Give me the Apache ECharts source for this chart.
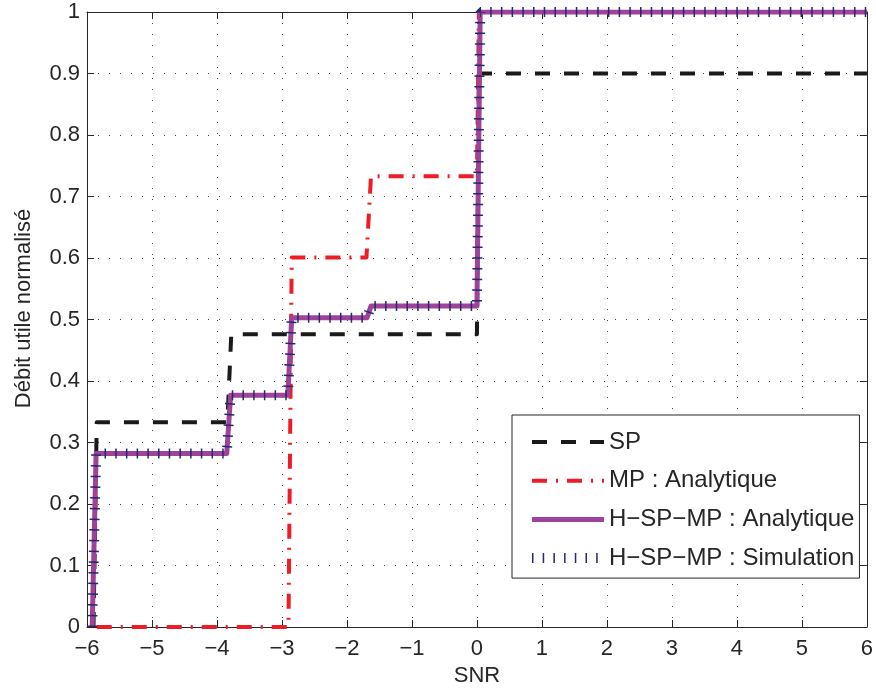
<!DOCTYPE html>
<html>
<head>
<meta charset="utf-8">
<script src="https://cdn.jsdelivr.net/npm/echarts@6/dist/echarts.min.js"></script>
<style>
  html, body { margin: 0; padding: 0; background: #fff; }
  #chart { width: 876px; height: 693px; }
</style>
</head>
<body>
<div id="chart"></div>
<script>
// step curves: [SNR, normalised throughput]
const spPoints = [[-5.9, 0], [-5.85, 0.333], [-3.84, 0.333], [-3.78, 0.476], [0.0, 0.476], [0.03, 0.9], [6, 0.9]];
const mpPoints = [[-5.85, 0], [-2.9, 0], [-2.85, 0.601], [-1.7, 0.601], [-1.63, 0.733], [0.0, 0.733], [0.03, 1], [6, 1]];
const hAnaPoints = [[-5.92, 0], [-5.86, 0.282], [-3.85, 0.282], [-3.79, 0.377], [-2.91, 0.377], [-2.85, 0.503], [-1.69, 0.503], [-1.63, 0.522], [0.0, 0.522], [0.05, 1], [6, 1]];
const hSimPoints = [[-5.92, 0], [-5.86, 0.282], [-3.85, 0.282], [-3.79, 0.377], [-2.91, 0.377], [-2.85, 0.503], [-1.69, 0.503], [-1.63, 0.522], [0.0, 0.522], [0.05, 1], [6, 1]];

const seriesNames = ['SP', 'MP : Analytique', 'H\u2212SP\u2212MP : Analytique', 'H\u2212SP\u2212MP : Simulation'];

const font = 'Liberation Sans, Arial, sans-serif';
const ink = '#262626';

const chart = echarts.init(document.getElementById('chart'));

const option = {
  animation: false,
  textStyle: { fontFamily: font },
  grid: { left: 87, top: 12, width: 781, height: 615 },
  legend: {
    orient: 'vertical',
    left: 512,
    top: 415,
    padding: [15, 5, 8, 15],
    itemWidth: 72,
    itemHeight: 24,
    itemGap: 14.7,
    selectedMode: false,
    backgroundColor: '#fff',
    borderColor: ink,
    borderWidth: 1,
    // keep only the line sample, no marker dot
    itemStyle: { color: 'rgba(0,0,0,0)', borderWidth: 0, opacity: 0 },
    lineStyle: { width: 'inherit' },
    textStyle: { fontSize: 24, color: ink, fontFamily: font, lineHeight: 24 },
    data: seriesNames
  },
  xAxis: [
    {
      type: 'value', min: -6, max: 6, interval: 1,
      name: 'SNR', nameLocation: 'middle', nameGap: 38,
      nameTextStyle: { fontSize: 22, color: ink, fontFamily: font },
      axisLine: { show: true, onZero: false, lineStyle: { color: ink, width: 1 } },
      axisTick: { show: true, inside: true, length: 7, lineStyle: { color: ink } },
      axisLabel: {
        fontSize: 22, color: ink, margin: 11,
        formatter: v => String(v).replace('-', '\u2212')
      },
      splitLine: { show: true, lineStyle: { color: '#444', width: 1, type: [1, 10] } }
    },
    {
      type: 'value', position: 'top', min: -6, max: 6, interval: 1,
      axisLine: { show: true, onZero: false, lineStyle: { color: ink, width: 1 } },
      axisTick: { show: true, inside: true, length: 7, lineStyle: { color: ink } },
      axisLabel: { show: false },
      splitLine: { show: false }
    }
  ],
  yAxis: [
    {
      type: 'value', min: 0, max: 1, interval: 0.1,
      name: 'Débit utile normalisé', nameLocation: 'middle', nameGap: 52,
      nameTextStyle: { fontSize: 22, color: ink, fontFamily: font, padding: [0, 0, 0, 22] },
      axisLine: { show: true, onZero: false, lineStyle: { color: ink, width: 1 } },
      axisTick: { show: true, inside: true, length: 7, lineStyle: { color: ink } },
      axisLabel: {
        fontSize: 22, color: ink, margin: 7,
        formatter: v => String(Math.round(v * 10) / 10)
      },
      splitLine: { show: true, lineStyle: { color: '#444', width: 1, type: [1, 10] } }
    },
    {
      type: 'value', position: 'right', min: 0, max: 1, interval: 0.1,
      axisLine: { show: true, onZero: false, lineStyle: { color: ink, width: 1 } },
      axisTick: { show: true, inside: true, length: 7, lineStyle: { color: ink } },
      axisLabel: { show: false },
      splitLine: { show: false }
    }
  ],
  series: [
    {
      name: seriesNames[0], type: 'line', data: spPoints, symbol: 'none',
      lineStyle: { color: '#1a1a1a', width: 4, type: [15, 14], join: 'round' },
      itemStyle: { color: '#1a1a1a' }
    },
    {
      name: seriesNames[1], type: 'line', data: mpPoints, symbol: 'none',
      lineStyle: { color: '#ee1d25', width: 4, type: [15, 9, 2, 9], join: 'round' },
      itemStyle: { color: '#ee1d25' }
    },
    {
      name: seriesNames[2], type: 'line', data: hAnaPoints, symbol: 'none',
      lineStyle: { color: '#a0419a', width: 5, join: 'round' },
      itemStyle: { color: '#a0419a' }
    },
    {
      name: seriesNames[3], type: 'line', data: hSimPoints, symbol: 'none',
      lineStyle: { color: '#232a6e', width: 10, type: [1.5, 9.2] },
      itemStyle: { color: '#232a6e' }
    }
  ]
};

chart.setOption(option);
</script>
</body>
</html>
